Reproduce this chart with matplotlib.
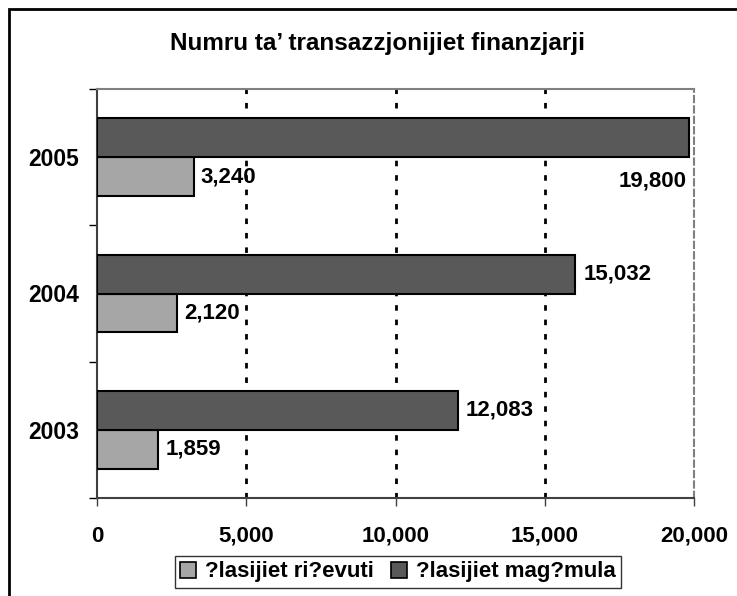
import matplotlib
matplotlib.use("Agg")
import matplotlib.pyplot as plt
from matplotlib.patches import Rectangle, Patch
from matplotlib.ticker import FuncFormatter
import numpy as np

plt.rcParams['font.family'] = ['Liberation Sans', 'DejaVu Sans']
plt.rcParams['font.weight'] = 'bold'

# data
years = ['2003', '2004', '2005']
received = [2050, 2690, 3240]          # bar lengths as drawn
made = [12083, 16010, 19830]
received_labels = ['1,859', '2,120', '3,240']
made_labels = ['12,083', '15,032', '19,800']
series_names = ['?lasijiet ri?evuti', '?lasijiet mag?mula']
title = 'Numru ta\u2019 transazzjonijiet finanzjarji'

W, H = 737, 596
fig = plt.figure(figsize=(W / 100, H / 100), dpi=100)
ax = fig.add_axes([97 / W, 1 - 498 / H, (694 - 97) / W, (498 - 89) / H])

y = np.arange(len(years))
bh = 0.286
light = '#A6A6A6'
dark = '#595959'
fs = 16
ax.barh(y - bh / 2, received, height=bh, color=light, edgecolor='black', linewidth=1.5, zorder=3)
ax.barh(y + bh / 2, made, height=bh, color=dark, edgecolor='black', linewidth=1.5, zorder=3)

ax.set_xlim(0, 20000)
ax.set_ylim(-0.5, 2.5)

# value labels
for i in range(len(years)):
    ax.annotate(received_labels[i], (received[i], y[i] - bh / 2), xytext=(5, 0),
                textcoords='offset points', va='center', ha='left', fontsize=fs, zorder=4)
    if i < 2:
        ax.annotate(made_labels[i], (made[i], y[i] + bh / 2), xytext=(6, 0),
                    textcoords='offset points', va='center', ha='left', fontsize=fs, zorder=4)
    else:
        ax.annotate(made_labels[i], (made[i], y[i] - bh / 2), xytext=(-2, -3),
                    textcoords='offset points', va='center', ha='right', fontsize=fs, zorder=4)

# grid
for gx in [5000, 10000, 15000]:
    ax.axvline(gx, color='black', linestyle=(0, (2, 3.2)), linewidth=2, zorder=1)

ax.spines['top'].set_color('#808080')
ax.spines['top'].set_linewidth(1.5)
ax.spines['right'].set_color('#808080')
ax.spines['right'].set_linewidth(1.5)
ax.spines['right'].set_linestyle((0, (3, 2)))
ax.spines['left'].set_color('#404040')
ax.spines['left'].set_linewidth(1.5)
ax.spines['bottom'].set_color('#404040')
ax.spines['bottom'].set_linewidth(1.5)

ax.set_xticks([0, 5000, 10000, 15000, 20000])
ax.xaxis.set_major_formatter(FuncFormatter(lambda v, p: f'{int(v):,}'))
ax.tick_params(axis='x', direction='out', length=6, width=1, pad=14, labelsize=fs, color='#404040')

ax.set_yticks([-0.5, 0.5, 1.5, 2.5])
ax.set_yticklabels([])
ax.set_yticks(y, minor=True)
ax.set_yticklabels(years, minor=True)
ax.tick_params(axis='y', which='major', direction='out', length=6, width=1, color='black')
ax.tick_params(axis='y', which='minor', length=0, pad=13, labelsize=16.5)

fig.text(377 / W, 1 - 50 / H, title, ha='center', va='baseline', fontsize=17.5, fontweight='bold')

handles = [Patch(facecolor=light, edgecolor='black', linewidth=1.2),
           Patch(facecolor=dark, edgecolor='black', linewidth=1.2)]
leg = fig.legend(handles, series_names, loc='center', bbox_to_anchor=(398 / W, 1 - 572 / H),
                 ncol=2, frameon=True, fancybox=False, fontsize=fs, handlelength=0.7,
                 handleheight=0.7, handletextpad=0.4, columnspacing=0.8, borderpad=0.25)
leg.get_frame().set_edgecolor('black')
leg.get_frame().set_linewidth(1)

fig.patches.append(Rectangle((9 / W, -0.1), 2, 1 - 9 / H + 0.1, transform=fig.transFigure,
                             fill=False, edgecolor='black', linewidth=2))

fig.savefig('out.png', dpi=100)
